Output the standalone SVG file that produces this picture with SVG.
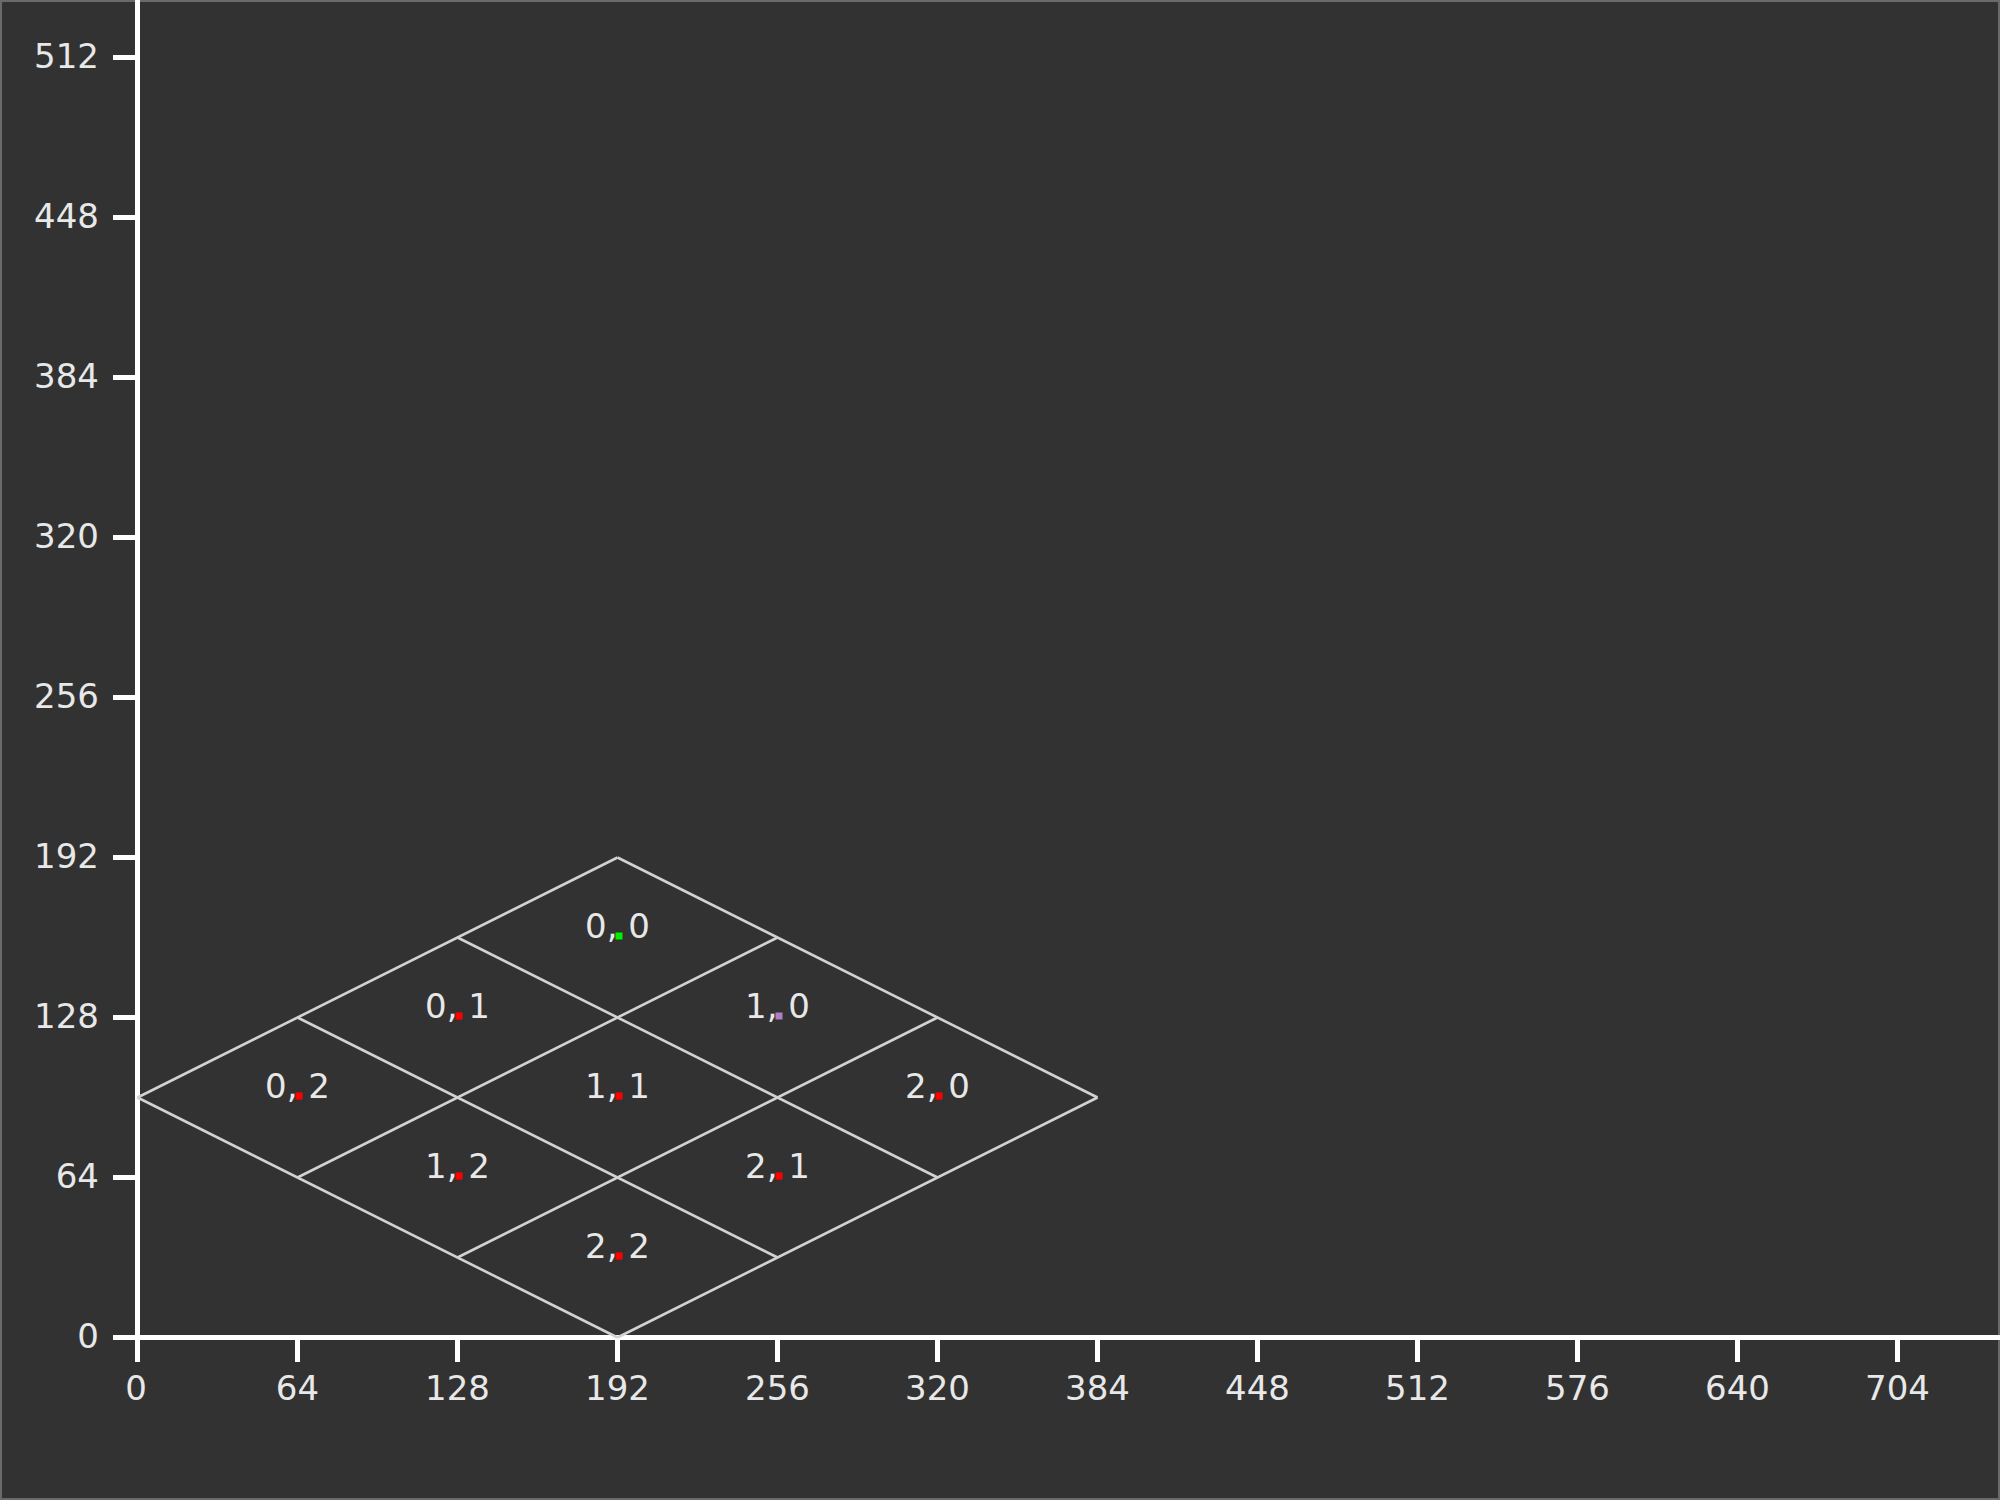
<svg xmlns="http://www.w3.org/2000/svg" width="2000" height="1500" viewBox="0 0 2000 1500">
<style>
.lbl{font-family:"DejaVu Sans","Liberation Sans",sans-serif;font-size:34px;fill:#e8e8e8}
.ylbl{text-anchor:end}
.xlbl{text-anchor:middle}
.tl{font-family:"DejaVu Sans","Liberation Sans",sans-serif;font-size:34px;fill:#e8e8e8;text-anchor:middle}
.axis{stroke:#ffffff;stroke-width:5;fill:none}
.grid{stroke:#d2d2d2;stroke-width:2.6;fill:none}
.dot{fill:#ff0000}
</style>
<rect x="0" y="0" width="2000" height="1500" fill="#323232"/>
<rect x="1" y="1" width="1998" height="1498" fill="none" stroke="#6a6a6a" stroke-width="2"/>
<g id="axes">
<line class="axis" x1="137.5" y1="0" x2="137.5" y2="1362"/>
<line class="axis" x1="113" y1="1337.5" x2="2000" y2="1337.5"/>
<path class="axis" d="M113 57.5H137.5M113 217.5H137.5M113 377.5H137.5M113 537.5H137.5M113 697.5H137.5M113 857.5H137.5M113 1017.5H137.5M113 1177.5H137.5"/>
<path class="axis" d="M297.5 1337.5V1362M457.5 1337.5V1362M617.5 1337.5V1362M777.5 1337.5V1362M937.5 1337.5V1362M1097.5 1337.5V1362M1257.5 1337.5V1362M1417.5 1337.5V1362M1577.5 1337.5V1362M1737.5 1337.5V1362M1897.5 1337.5V1362"/>
</g>
<g id="y-labels" class="lbl ylbl">
<text x="99" y="68">512</text>
<text x="99" y="228">448</text>
<text x="99" y="388">384</text>
<text x="99" y="548">320</text>
<text x="99" y="708">256</text>
<text x="99" y="868">192</text>
<text x="99" y="1028">128</text>
<text x="99" y="1188">64</text>
<text x="99" y="1348">0</text>
</g>
<g id="x-labels" class="lbl xlbl">
<text x="136" y="1400">0</text>
<text x="297.5" y="1400">64</text>
<text x="457.5" y="1400">128</text>
<text x="617.5" y="1400">192</text>
<text x="777.5" y="1400">256</text>
<text x="937.5" y="1400">320</text>
<text x="1097.5" y="1400">384</text>
<text x="1257.5" y="1400">448</text>
<text x="1417.5" y="1400">512</text>
<text x="1577.5" y="1400">576</text>
<text x="1737.5" y="1400">640</text>
<text x="1897.5" y="1400">704</text>
</g>
<g id="connectors" class="grid">
<line x1="137.5" y1="1097.5" x2="617.5" y2="1337.5"/>
<line x1="297.5" y1="1017.5" x2="777.5" y2="1257.5"/>
<line x1="457.5" y1="937.5" x2="937.5" y2="1177.5"/>
<line x1="617.5" y1="857.5" x2="1097.5" y2="1097.5"/>
<line x1="137.5" y1="1097.5" x2="617.5" y2="857.5"/>
<line x1="297.5" y1="1177.5" x2="777.5" y2="937.5"/>
<line x1="457.5" y1="1257.5" x2="937.5" y2="1017.5"/>
<line x1="617.5" y1="1337.5" x2="1097.5" y2="1097.5"/>
</g>
<g id="tile-0-0"><text class="tl" x="617.5" y="938">0, 0</text><rect x="615.5" y="932.5" width="7" height="7" fill="#00ee00"/></g>
<g id="tile-1-0"><text class="tl" x="777.5" y="1018">1, 0</text><rect x="775.5" y="1012.5" width="7" height="7" fill="#b07cc6"/></g>
<g id="tile-0-1"><text class="tl" x="457.5" y="1018">0, 1</text><rect class="dot" x="455.5" y="1012.5" width="7" height="7"/></g>
<g id="tile-2-0"><text class="tl" x="937.5" y="1098">2, 0</text><rect class="dot" x="935.5" y="1092.5" width="7" height="7"/></g>
<g id="tile-1-1"><text class="tl" x="617.5" y="1098">1, 1</text><rect class="dot" x="615.5" y="1092.5" width="7" height="7"/></g>
<g id="tile-0-2"><text class="tl" x="297.5" y="1098">0, 2</text><rect class="dot" x="295.5" y="1092.5" width="7" height="7"/></g>
<g id="tile-2-1"><text class="tl" x="777.5" y="1178">2, 1</text><rect class="dot" x="775.5" y="1172.5" width="7" height="7"/></g>
<g id="tile-1-2"><text class="tl" x="457.5" y="1178">1, 2</text><rect class="dot" x="455.5" y="1172.5" width="7" height="7"/></g>
<g id="tile-2-2"><text class="tl" x="617.5" y="1258">2, 2</text><rect class="dot" x="615.5" y="1252.5" width="7" height="7"/></g>
</svg>
